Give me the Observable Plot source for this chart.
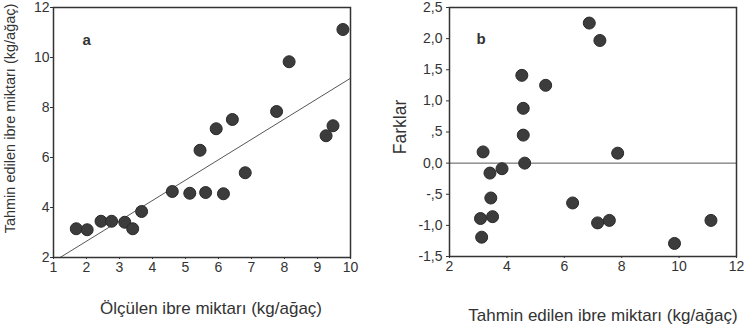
<!DOCTYPE html>
<html>
<head>
<meta charset="utf-8">
<script src="https://cdn.jsdelivr.net/npm/d3@7"></script>
<script src="https://cdn.jsdelivr.net/npm/@observablehq/plot@0.6"></script>
<style>
  body { margin: 0; background: #fff; }
  #wrap { position: relative; width: 746px; height: 324px; overflow: hidden; }
  #pa, #pb { position: absolute; top: 0; }
  #pa { left: 0; }
  #pb { left: 373px; }
</style>
</head>
<body>
<div id="wrap"><div id="pa"></div><div id="pb"></div></div>
<script>
// Panel a: measured vs predicted
const measured  = [1.69, 2.02, 2.44, 2.76, 3.16, 3.40, 3.67, 4.60, 5.13, 5.61, 6.15, 5.44, 5.93, 6.42, 6.81, 7.76, 8.14, 9.26, 9.47, 9.77];
const predicted = [3.15, 3.11, 3.45, 3.45, 3.41, 3.15, 3.84, 4.64, 4.57, 4.60, 4.55, 6.29, 7.15, 7.52, 5.39, 7.84, 9.83, 6.87, 7.27, 11.12];
// regression line end points
const lineX = [1.2, 10];
const lineY = [2.0, 9.17];
const xTicksA = [1, 2, 3, 4, 5, 6, 7, 8, 9, 10];
const yTicksA = [2, 4, 6, 8, 10, 12];
const xLabelA = "Ölçülen ibre miktarı (kg/ağaç)";
const yLabelA = "Tahmin edilen ibre miktarı (kg/ağaç)";

// Panel b: predicted vs differences
const predB = [6.87, 7.24, 4.52, 5.35, 4.57, 4.57, 4.62, 3.17, 3.41, 3.83, 3.44, 3.50, 3.08, 3.12, 6.29, 7.16, 7.57, 7.86, 9.84, 11.11];
const diffs = [2.25, 1.97, 1.41, 1.25, 0.88, 0.45, 0.00, 0.18, -0.16, -0.09, -0.56, -0.86, -0.89, -1.19, -0.64, -0.96, -0.92, 0.16, -1.29, -0.92];
const xTicksB = [2, 4, 6, 8, 10, 12];
const yTicksB = [2.5, 2.0, 1.5, 1.0, 0.5, 0.0, -0.5, -1.0, -1.5];
const yTickLabelsB = ["2,5", "2,0", "1,5", "1,0", ",5", "0,0", "-,5", "-1,0", "-1,5"];
const xLabelB = "Tahmin edilen ibre miktarı (kg/ağaç)";
const yLabelB = "Farklar";

const ink = "#333";
const font = "'Liberation Sans', Arial, sans-serif";
const dotFill = "#3c3c3c";

const ptsA = measured.map((x, i) => ({x, y: predicted[i]}));
const lineA = lineX.map((x, i) => ({x, y: lineY[i]}));
const ptsB = predB.map((x, i) => ({x, y: diffs[i]}));

const plotA = Plot.plot({
  width: 373, height: 324,
  marginLeft: 53, marginRight: 23, marginTop: 7, marginBottom: 67,
  style: {fontFamily: font, fontSize: "14px", color: ink, background: "#fff"},
  x: {domain: [1, 10]},
  y: {domain: [2, 12]},
  marks: [
    Plot.axisX({ticks: xTicksA, tickSize: 2, tickPadding: 3, fontSize: 14, fill: ink, label: null}),
    Plot.axisY({ticks: yTicksA, tickSize: 3, tickPadding: 1, fontSize: 14, fill: ink, label: null}),
    Plot.text([xLabelA], {frameAnchor: "bottom", lineAnchor: "top", dx: 9, dy: 44, text: d => d, fontSize: 17, fill: ink}),
    Plot.text([yLabelA], {frameAnchor: "left", textAnchor: "middle", lineAnchor: "top", rotate: -90, dx: -49, dy: -14, text: d => d, fontSize: 14.5, fill: ink}),
    Plot.line(lineA, {x: "x", y: "y", stroke: "#444", strokeWidth: 0.9}),
    Plot.dot(ptsA, {x: "x", y: "y", r: 6, fill: dotFill, stroke: "#2a2a2a", strokeWidth: 1}),
    Plot.text(["a"], {frameAnchor: "top-left", dx: 29, dy: 27, text: d => d, fontSize: 15, fontWeight: "bold", fill: ink}),
    Plot.frame({stroke: ink, strokeWidth: 1.5})
  ]
});

const plotB = Plot.plot({
  width: 373, height: 324,
  marginLeft: 76, marginRight: 10, marginTop: 7, marginBottom: 68,
  style: {fontFamily: font, fontSize: "14px", color: ink, background: "#fff"},
  x: {domain: [2, 12]},
  y: {domain: [-1.5, 2.5]},
  marks: [
    Plot.axisX({ticks: xTicksB, tickSize: 2, tickPadding: 3, fontSize: 14, fill: ink, label: null}),
    Plot.axisY({ticks: yTicksB, tickFormat: d => yTickLabelsB[yTicksB.indexOf(d)], tickSize: 3, tickPadding: 4, fontSize: 14, fill: ink, label: null}),
    Plot.text([xLabelB], {frameAnchor: "bottom", lineAnchor: "top", dx: 10, dy: 52, text: d => d, fontSize: 17, fill: ink}),
    Plot.text([yLabelB], {frameAnchor: "left", textAnchor: "middle", lineAnchor: "top", rotate: -90, dx: -56, dy: -5, text: d => d, fontSize: 17.5, fill: ink}),
    Plot.ruleY([0], {stroke: "#444", strokeWidth: 0.9}),
    Plot.dot(ptsB, {x: "x", y: "y", r: 6, fill: dotFill, stroke: "#2a2a2a", strokeWidth: 1}),
    Plot.text(["b"], {frameAnchor: "top-left", dx: 27, dy: 26, text: d => d, fontSize: 15, fontWeight: "bold", fill: ink}),
    Plot.frame({stroke: ink, strokeWidth: 1.5})
  ]
});

document.getElementById("pa").appendChild(plotA);
document.getElementById("pb").appendChild(plotB);
</script>
</body>
</html>
